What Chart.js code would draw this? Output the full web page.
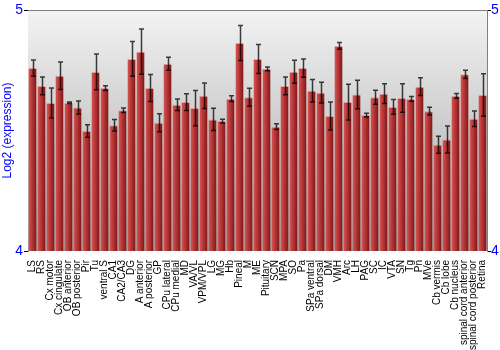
<!DOCTYPE html>
<html>
<head>
<meta charset="utf-8">
<script src="https://cdn.jsdelivr.net/npm/chart.js@4"></script>
<style>
  body { margin: 0; background: #fff; }
  #wrap { width: 500px; height: 350px; }
</style>
</head>
<body>
<div id="wrap"><canvas id="chart"></canvas></div>
<script>
const regions = [
  "LS", "RS", "Cx motor", "Cx cingulate", "OB anterior", "OB posterior", "Pir", "Tu",
  "ventral S", "CA1", "CA2/CA3", "DG", "A anterior", "A posterior", "GP", "CPu lateral",
  "CPu medial", "MD", "VA/VL", "VPM/VPL", "LG", "MG", "Hb", "Pineal", "M", "ME",
  "Pituitary", "SCN", "MPA", "SO", "Pa", "SPa ventral", "SPa dorsal", "DM", "VMH", "Arc",
  "LH", "PAG", "SC", "IC", "VTA", "SN", "Tg", "Pn", "MVe", "Cb vermis", "Cb lobe",
  "Cb nucleus", "spinal cord anterior", "spinal cord posterior", "Retina"
];

const expression = [
  4.759, 4.685, 4.614, 4.727, 4.615, 4.595, 4.498, 4.743,
  4.676, 4.522, 4.584, 4.797, 4.827, 4.676, 4.532, 4.777,
  4.607, 4.618, 4.593, 4.644, 4.546, 4.539, 4.632, 4.863, 4.638, 4.797,
  4.756, 4.516, 4.685, 4.744, 4.759, 4.665, 4.657, 4.560, 4.851, 4.618,
  4.649, 4.564, 4.638, 4.653, 4.598, 4.635, 4.631, 4.682, 4.580, 4.441, 4.463,
  4.644, 4.733, 4.549, 4.647
];

const errors = [
  0.034, 0.037, 0.062, 0.057, 0.003, 0.027, 0.026, 0.074,
  0.010, 0.024, 0.009, 0.072, 0.094, 0.056, 0.037, 0.027,
  0.024, 0.035, 0.073, 0.053, 0.046, 0.008, 0.012, 0.073, 0.037, 0.060,
  0.008, 0.012, 0.037, 0.048, 0.038, 0.047, 0.043, 0.058, 0.014, 0.074,
  0.059, 0.008, 0.029, 0.041, 0.031, 0.059, 0.010, 0.037, 0.016, 0.035, 0.056,
  0.010, 0.017, 0.032, 0.088
];

const yTicks = [4, 5];

// grey gradient behind the bars plus the top frame line
const plotBackground = {
  id: "plotBackground",
  beforeDatasetsDraw(chart) {
    const { ctx, chartArea } = chart;
    const g = ctx.createLinearGradient(0, chartArea.top, 0, chartArea.bottom);
    g.addColorStop(0, "#f3f3f3");
    g.addColorStop(1, "#a3a3a3");
    ctx.save();
    ctx.fillStyle = g;
    ctx.fillRect(chartArea.left, chartArea.top, chartArea.right - chartArea.left, chartArea.bottom - chartArea.top);
    ctx.strokeStyle = "#808080";
    ctx.lineWidth = 1;
    ctx.beginPath();
    ctx.moveTo(chartArea.left, chartArea.top + 0.5);
    ctx.lineTo(chartArea.right, chartArea.top + 0.5);
    ctx.stroke();
    ctx.restore();
  },
};

const errorBars = {
  id: "errorBars",
  afterDatasetsDraw(chart) {
    const { ctx } = chart;
    const yScale = chart.scales.y;
    const meta = chart.getDatasetMeta(0);
    ctx.save();
    ctx.strokeStyle = "rgba(0, 0, 0, 0.75)";
    ctx.lineWidth = 1.5;
    meta.data.forEach((bar, i) => {
      const x = Math.round(bar.x) + 0.5;
      const top = yScale.getPixelForValue(expression[i] + errors[i]);
      const bottom = yScale.getPixelForValue(expression[i] - errors[i]);
      ctx.beginPath();
      ctx.moveTo(x, top);
      ctx.lineTo(x, bottom);
      ctx.moveTo(x - 2.5, top);
      ctx.lineTo(x + 2.5, top);
      ctx.moveTo(x - 2.5, bottom);
      ctx.lineTo(x + 2.5, bottom);
      ctx.stroke();
    });
    ctx.restore();
  },
};

function barGradient(context) {
  const chart = context.chart;
  const xScale = chart.scales.x;
  if (!xScale || context.dataIndex === undefined) return "#b03030";
  const cx = xScale.getPixelForValue(context.dataIndex);
  if (!isFinite(cx)) return "#b03030";
  const g = chart.ctx.createLinearGradient(cx - 4, 0, cx + 4, 0);
  g.addColorStop(0, "#d65858");
  g.addColorStop(0.35, "#c03c3c");
  g.addColorStop(1, "#7e1616");
  return g;
}

const chart = new Chart(document.getElementById("chart"), {
  type: "bar",
  data: {
    labels: regions,
    datasets: [
      {
        label: "Log2 (expression)",
        data: expression,
        backgroundColor: barGradient,
        borderColor: "rgba(235, 130, 130, 0.7)",
        borderWidth: { top: 1, left: 0, right: 0, bottom: 0 },
        borderSkipped: false,
        categoryPercentage: 1,
        barPercentage: 0.9,
      },
    ],
  },
  options: {
    responsive: true,
    maintainAspectRatio: false,
    animation: false,
    layout: { padding: { top: 10, right: 0, left: 0, bottom: 0 } },
    plugins: {
      legend: { display: false },
      tooltip: { enabled: false },
    },
    scales: {
      x: {
        grid: { display: false },
        border: { display: false },
        ticks: {
          autoSkip: false,
          maxRotation: 90,
          minRotation: 90,
          padding: 1,
          color: "#000",
          font: { family: "'Liberation Sans', Arial, sans-serif", size: 10 },
        },
        afterFit(scale) {
          scale.height = 99;
        },
      },
      y: {
        position: "left",
        min: 4,
        max: 5,
        afterBuildTicks(scale) {
          scale.ticks = yTicks.map((v) => ({ value: v }));
        },
        grid: { drawOnChartArea: false, drawTicks: true, tickLength: 4, color: "#000" },
        border: { display: true, color: "#808080", width: 1 },
        ticks: {
          padding: 1,
          color: "#0000ff",
          font: { family: "'Liberation Sans', Arial, sans-serif", size: 14 },
        },
        title: {
          display: true,
          text: "Log2 (expression)",
          color: "#0000ff",
          padding: 0,
          font: { family: "'Liberation Sans', Arial, sans-serif", size: 12 },
        },
        afterFit(scale) {
          scale.width = 28;
        },
      },
      y2: {
        position: "right",
        min: 4,
        max: 5,
        afterBuildTicks(scale) {
          scale.ticks = yTicks.map((v) => ({ value: v }));
        },
        grid: { drawOnChartArea: false, drawTicks: true, tickLength: 4, color: "#000" },
        border: { display: true, color: "#808080", width: 1 },
        ticks: {
          padding: 0,
          color: "#0000ff",
          font: { family: "'Liberation Sans', Arial, sans-serif", size: 14 },
        },
        afterFit(scale) {
          scale.width = 13;
        },
      },
    },
  },
  plugins: [plotBackground, errorBars],
});

// second pass so the per-bar gradients see a laid-out x scale
chart.update();
</script>
</body>
</html>
